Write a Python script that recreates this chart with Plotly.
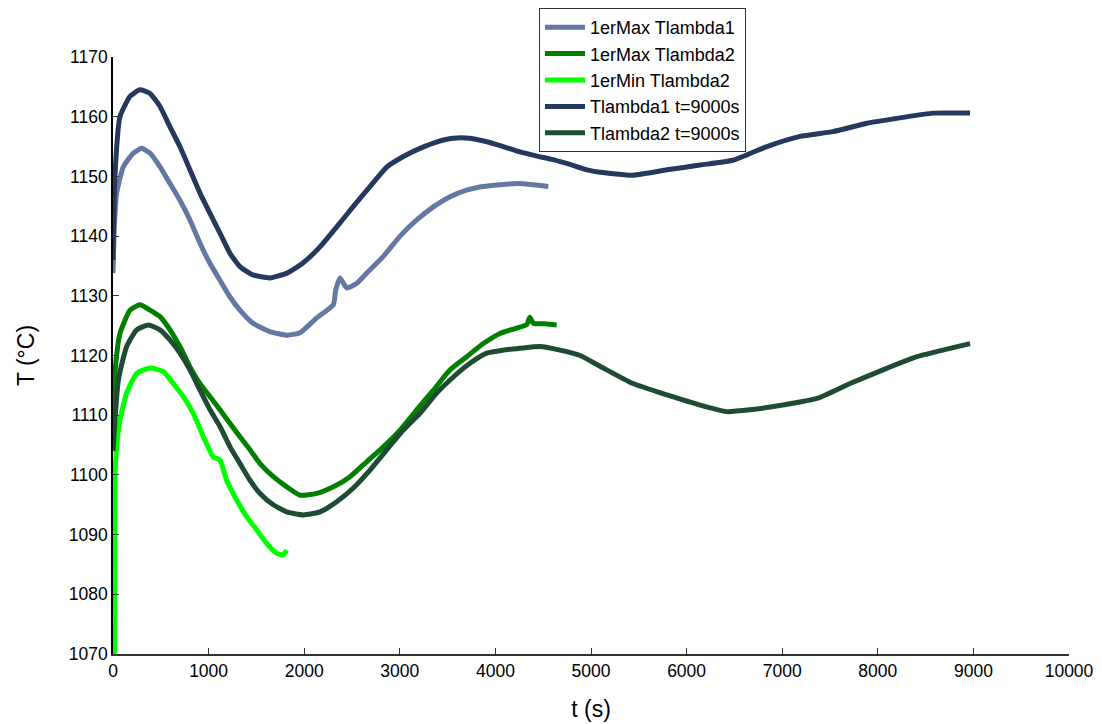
import plotly.graph_objects as go

# 1erMax Tlambda1
t_max1 = [0, 15, 38, 108, 213, 300, 387, 492, 596, 700, 805, 910, 1015, 1119, 1224, 1328, 1464, 1642, 1820, 1956, 2131, 2305, 2330, 2375, 2445, 2550, 2654, 2828, 3003, 3177, 3351, 3526, 3700, 3874, 4048, 4222, 4397, 4553]
T_max1 = [1133.8, 1142, 1147.2, 1151.6, 1153.9, 1154.7, 1153.9, 1151.6, 1148.8, 1146.0, 1142.7, 1138.8, 1135.4, 1132.6, 1129.8, 1127.6, 1125.4, 1124.0, 1123.4, 1123.8, 1126.3, 1128.5, 1131.0, 1133.0, 1131.3, 1132.1, 1133.8, 1136.6, 1140.0, 1142.7, 1144.9, 1146.6, 1147.7, 1148.3, 1148.6, 1148.8, 1148.6, 1148.3]

# 1erMax Tlambda2
t_max2 = [0, 20, 73, 178, 282, 387, 492, 596, 700, 805, 910, 1015, 1119, 1224, 1328, 1433, 1538, 1677, 1817, 1956, 2131, 2305, 2480, 2654, 2828, 3003, 3177, 3352, 3526, 3700, 3874, 4048, 4222, 4330, 4360, 4397, 4520, 4641]
T_max2 = [1110.0, 1117.0, 1123.7, 1127.6, 1128.5, 1127.6, 1126.5, 1124.3, 1121.5, 1118.1, 1115.3, 1113.1, 1110.9, 1108.6, 1106.4, 1104.2, 1101.9, 1099.7, 1098.0, 1096.6, 1096.9, 1098.0, 1099.7, 1102.2, 1104.7, 1107.5, 1110.9, 1114.2, 1117.6, 1119.8, 1122.0, 1123.7, 1124.6, 1125.2, 1126.4, 1125.4, 1125.3, 1125.1]

# 1erMin Tlambda2
t_min2 = [10, 22, 38, 73, 143, 248, 387, 527, 631, 736, 840, 945, 1050, 1119, 1189, 1294, 1398, 1503, 1608, 1712, 1780, 1817]
T_min2 = [1050.0, 1100.0, 1104.7, 1109.2, 1113.7, 1117.0, 1117.9, 1117.3, 1115.3, 1113.1, 1110.3, 1106.4, 1103.0, 1102.5, 1099.1, 1095.8, 1093.0, 1090.8, 1088.5, 1086.9, 1086.6, 1087.4]

# Tlambda1 t=9000s
t_l1 = [0, 20, 73, 178, 282, 387, 492, 596, 700, 805, 910, 1015, 1119, 1224, 1328, 1464, 1642, 1820, 1987, 2165, 2343, 2510, 2688, 2866, 3033, 3211, 3389, 3556, 3734, 3912, 4080, 4257, 4435, 4603, 4780, 4958, 5094, 5439, 5795, 6140, 6485, 6841, 7186, 7531, 7887, 8232, 8577, 8965]
T_l1 = [1136.0, 1150.0, 1160.0, 1163.4, 1164.5, 1163.9, 1161.7, 1158.3, 1155.0, 1151.1, 1147.2, 1143.8, 1140.5, 1137.1, 1134.9, 1133.5, 1133.0, 1133.8, 1135.5, 1138.2, 1141.6, 1144.9, 1148.3, 1151.6, 1153.3, 1154.7, 1155.8, 1156.4, 1156.4, 1155.8, 1155.0, 1154.1, 1153.4, 1152.8, 1152.0, 1151.1, 1150.7, 1150.2, 1151.1, 1151.9, 1152.7, 1155.0, 1156.7, 1157.5, 1158.9, 1159.8, 1160.6, 1160.6]

# Tlambda2 t=9000s
t_l2 = [0, 56, 143, 248, 370, 492, 596, 700, 805, 910, 1015, 1119, 1224, 1328, 1433, 1538, 1677, 1817, 1991, 2165, 2340, 2514, 2688, 2863, 3037, 3211, 3386, 3560, 3734, 3909, 4083, 4257, 4466, 4676, 4885, 5094, 5439, 5795, 6140, 6422, 6663, 7008, 7364, 7710, 8055, 8410, 8755, 8965]
T_l2 = [1104.0, 1115.9, 1121.5, 1124.3, 1125.1, 1124.3, 1122.6, 1120.4, 1117.6, 1114.2, 1110.9, 1108.1, 1104.7, 1101.9, 1099.1, 1096.9, 1095.0, 1093.8, 1093.3, 1093.8, 1095.5, 1097.8, 1100.8, 1104.2, 1107.5, 1110.3, 1113.7, 1116.4, 1118.7, 1120.4, 1120.9, 1121.2, 1121.5, 1120.9, 1120.0, 1118.2, 1115.3, 1113.4, 1111.7, 1110.6, 1110.9, 1111.7, 1112.8, 1115.3, 1117.6, 1119.8, 1121.2, 1122.0]

series_names = ["1erMax Tlambda1", "1erMax Tlambda2", "1erMin Tlambda2", "Tlambda1 t=9000s", "Tlambda2 t=9000s"]
series_colors = ["#6577a3", "#007f00", "#00ff00", "#26385e", "#1e4b32"]
series_t = [t_max1, t_max2, t_min2, t_l1, t_l2]
series_T = [T_max1, T_max2, T_min2, T_l1, T_l2]

fig = go.Figure()
for name, color, tx, ty in zip(series_names, series_colors, series_t, series_T):
    fig.add_trace(go.Scatter(
        x=tx, y=ty, mode="lines", name=name,
        line=dict(color=color, width=5, shape="spline", smoothing=0.5),
    ))

FONT = "Liberation Sans"
axis_font = dict(family=FONT, size=17.5, color="black")
fig.update_layout(
    width=1094, height=716,
    paper_bgcolor="white", plot_bgcolor="white",
    margin=dict(l=105, r=33, t=49, b=70, autoexpand=False),
    font=axis_font,
    showlegend=True,
    legend=dict(
        x=0.4456, xanchor="left",
        y=1.0, yref="container", yanchor="top",
        bgcolor="white", bordercolor="#333333", borderwidth=1,
        font=dict(family=FONT, size=18, color="black"),
        tracegroupgap=0, itemwidth=40,
    ),
    xaxis=dict(
        range=[0, 10000], dtick=1000, tick0=0, tickformat="d",
        showgrid=False, zeroline=False, automargin=False,
        showline=True, linecolor="#333333", linewidth=1.5,
        ticks="inside", ticklen=6, tickcolor="#333333",
        tickfont=axis_font,
        title=dict(text="t (s)", font=dict(family=FONT, size=23, color="black"), standoff=21),
    ),
    yaxis=dict(
        range=[1070, 1170], dtick=10, tick0=1070, tickformat="d",
        showgrid=False, zeroline=False, automargin=False,
        showline=True, linecolor="#000000", linewidth=1.5,
        ticks="inside", ticklen=6, tickcolor="#333333",
        tickfont=axis_font,
        title=dict(text="T (°C)", font=dict(family=FONT, size=23, color="black"), standoff=28),
    ),
)

fig.write_html("out.html")
